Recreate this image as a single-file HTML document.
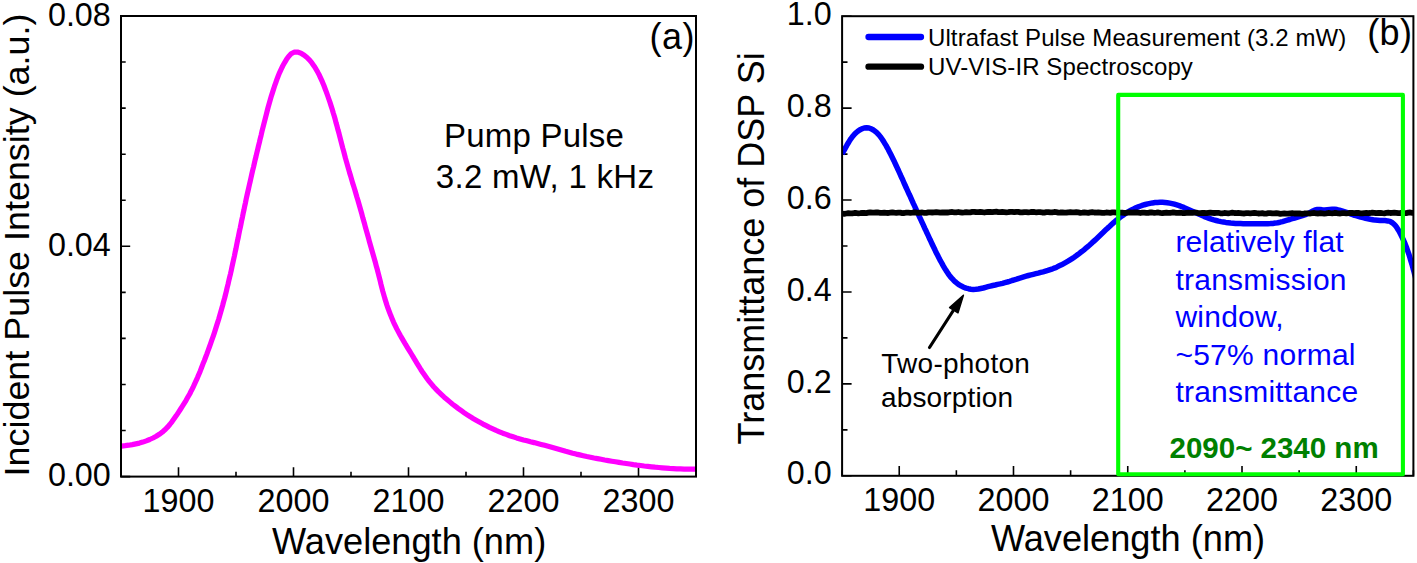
<!DOCTYPE html><html><head><meta charset="utf-8"><style>html,body{margin:0;padding:0;background:#fff;}svg{display:block;}text{font-family:"Liberation Sans", sans-serif;}</style></head><body>
<svg width="1417" height="563" viewBox="0 0 1417 563">
<rect width="1417" height="563" fill="#fff"/>
<defs><clipPath id="ca"><rect x="121.00" y="16.00" width="575.00" height="460.60"/></clipPath><clipPath id="cb"><rect x="842.10" y="16.20" width="571.30" height="459.60"/></clipPath></defs>
<path d="M121.00 476.60h9.2 M121.00 430.54h4.7 M121.00 384.48h4.7 M121.00 338.42h4.7 M121.00 292.36h4.7 M121.00 246.30h9.2 M121.00 200.24h4.7 M121.00 154.18h4.7 M121.00 108.12h4.7 M121.00 62.06h4.7 M121.00 16.00h9.2 M121.00 476.60v-4.8 M178.50 476.60v-9.4 M236.00 476.60v-4.8 M293.50 476.60v-9.4 M351.00 476.60v-4.8 M408.50 476.60v-9.4 M466.00 476.60v-4.8 M523.50 476.60v-9.4 M581.00 476.60v-4.8 M638.50 476.60v-9.4 M696.00 476.60v-4.8" stroke="#000" stroke-width="1.6" fill="none"/>
<path d="M842.10 475.80h9.5 M842.10 429.84h5.4 M842.10 383.88h9.5 M842.10 337.92h5.4 M842.10 291.96h9.5 M842.10 246.00h5.4 M842.10 200.04h9.5 M842.10 154.08h5.4 M842.10 108.12h9.5 M842.10 62.16h5.4 M842.10 16.20h9.5 M842.10 475.80v-5.6 M899.23 475.80v-9.8 M956.36 475.80v-5.6 M1013.49 475.80v-9.8 M1070.62 475.80v-5.6 M1127.75 475.80v-9.8 M1184.88 475.80v-5.6 M1242.01 475.80v-9.8 M1299.14 475.80v-5.6 M1356.27 475.80v-9.8 M1413.40 475.80v-5.6" stroke="#000" stroke-width="1.6" fill="none"/>
<polyline clip-path="url(#ca)" points="121.5,446.1 125.1,445.7 128.7,445.2 132.3,444.6 135.8,443.9 139.4,443.1 142.8,442.1 146.3,440.9 149.7,439.5 153.0,438.0 156.2,436.3 159.3,434.3 162.2,432.2 164.9,429.8 167.5,427.2 169.8,424.5 172.1,421.6 174.2,418.6 176.3,415.6 178.3,412.6 180.3,409.5 182.3,406.4 184.2,403.4 186.1,400.3 187.9,397.1 189.7,394.0 191.3,390.7 193.0,387.5 194.5,384.2 196.0,380.9 197.5,377.6 198.9,374.2 200.3,370.9 201.6,367.5 202.9,364.1 204.3,360.7 205.6,357.3 206.9,353.9 208.1,350.5 209.4,347.0 210.6,343.6 211.8,340.2 213.0,336.8 214.2,333.3 215.3,329.9 216.4,326.4 217.5,322.9 218.6,319.5 219.6,316.0 220.6,312.5 221.6,309.0 222.6,305.5 223.5,302.0 224.5,298.5 225.4,295.0 226.3,291.4 227.1,287.9 228.0,284.4 228.8,280.8 229.6,277.3 230.5,273.8 231.3,270.2 232.0,266.7 232.8,263.1 233.6,259.5 234.4,256.0 235.1,252.4 235.9,248.9 236.6,245.3 237.3,241.7 238.1,238.2 238.8,234.6 239.5,231.0 240.3,227.5 241.0,223.9 241.7,220.3 242.5,216.8 243.2,213.2 244.0,209.7 244.7,206.1 245.5,202.6 246.2,199.0 247.0,195.4 247.8,191.9 248.6,188.4 249.4,184.8 250.2,181.3 251.0,177.7 251.8,174.2 252.6,170.6 253.5,167.1 254.3,163.6 255.1,160.0 256.0,156.5 256.8,153.0 257.7,149.4 258.5,145.9 259.4,142.4 260.2,138.8 261.1,135.3 261.9,131.7 262.8,128.2 263.7,124.7 264.6,121.1 265.5,117.6 266.4,114.1 267.3,110.5 268.2,107.0 269.2,103.5 270.2,100.0 271.2,96.6 272.3,93.1 273.4,89.6 274.5,86.2 275.7,82.8 276.9,79.4 278.2,76.0 279.6,72.6 281.1,69.3 282.7,66.0 284.5,62.8 286.4,59.6 288.6,56.5 291.1,53.8 294.1,52.2 297.5,52.1 301.0,53.2 304.2,55.2 307.0,57.5 309.6,60.1 311.9,62.9 314.0,65.9 315.9,68.9 317.7,72.1 319.4,75.3 320.9,78.6 322.4,81.9 323.8,85.3 325.1,88.7 326.4,92.1 327.6,95.5 328.8,99.0 330.0,102.4 331.1,105.9 332.2,109.3 333.2,112.8 334.3,116.3 335.3,119.8 336.2,123.3 337.2,126.8 338.1,130.3 339.1,133.8 340.0,137.3 340.9,140.8 341.8,144.4 342.7,147.9 343.7,151.4 344.6,154.9 345.5,158.4 346.5,161.9 347.5,165.4 348.5,168.9 349.5,172.4 350.6,175.9 351.6,179.4 352.6,182.9 353.7,186.3 354.8,189.8 355.8,193.3 356.8,196.8 357.9,200.3 358.9,203.8 359.9,207.3 360.9,210.8 361.9,214.3 362.8,217.8 363.8,221.3 364.8,224.8 365.7,228.3 366.7,231.8 367.7,235.3 368.7,238.8 369.6,242.3 370.6,245.8 371.6,249.3 372.6,252.8 373.6,256.3 374.6,259.8 375.6,263.3 376.5,266.8 377.5,270.3 378.4,273.8 379.3,277.3 380.2,280.9 381.0,284.4 381.9,287.9 382.8,291.4 383.8,294.9 384.8,298.4 385.9,301.9 387.0,305.4 388.2,308.8 389.5,312.2 390.8,315.6 392.2,319.0 393.6,322.3 395.2,325.6 396.8,328.9 398.5,332.1 400.2,335.3 402.0,338.4 403.9,341.6 405.7,344.7 407.6,347.8 409.5,350.9 411.4,354.0 413.3,357.1 415.1,360.2 417.0,363.3 418.9,366.4 420.8,369.5 422.8,372.6 424.9,375.6 427.0,378.5 429.2,381.4 431.5,384.2 433.9,387.0 436.4,389.6 438.9,392.2 441.5,394.7 444.2,397.2 447.0,399.5 449.8,401.9 452.6,404.2 455.5,406.4 458.4,408.6 461.3,410.7 464.3,412.8 467.3,414.8 470.4,416.8 473.5,418.7 476.6,420.5 479.8,422.3 483.0,424.1 486.2,425.7 489.5,427.4 492.8,428.9 496.1,430.4 499.4,431.8 502.8,433.2 506.2,434.4 509.6,435.7 513.1,436.8 516.5,437.9 520.0,438.9 523.5,439.9 527.0,440.8 530.5,441.8 534.1,442.6 537.6,443.5 541.1,444.4 544.6,445.3 548.2,446.3 551.7,447.3 555.2,448.3 558.7,449.3 562.2,450.3 565.7,451.3 569.2,452.2 572.7,453.2 576.2,454.1 579.7,454.9 583.3,455.7 586.8,456.5 590.4,457.2 594.0,458.0 597.5,458.6 601.1,459.3 604.7,460.0 608.3,460.6 611.8,461.2 615.4,461.8 619.0,462.4 622.6,463.0 626.2,463.5 629.8,464.0 633.4,464.6 637.0,465.1 640.6,465.5 644.2,466.0 647.8,466.4 651.5,466.8 655.1,467.2 658.7,467.5 662.3,467.8 665.9,468.1 669.6,468.4 673.2,468.6 676.8,468.8 680.5,468.9 684.1,469.1 687.7,469.1 691.4,469.2 695.0,469.2" fill="none" stroke="#ff00ff" stroke-width="5.2" stroke-linejoin="round"/>
<polyline clip-path="url(#cb)" points="842.1,153.8 843.3,151.7 844.5,149.6 845.7,147.4 846.9,145.2 848.2,143.0 849.5,140.9 850.8,138.8 852.3,136.8 853.9,134.9 855.6,133.1 857.5,131.5 859.6,130.0 861.8,128.8 864.2,128.0 866.6,127.7 869.0,128.0 871.3,128.8 873.4,130.0 875.4,131.4 877.2,133.1 878.9,134.9 880.5,136.9 882.0,139.0 883.4,141.1 884.7,143.3 886.0,145.4 887.2,147.6 888.4,149.7 889.5,151.9 890.6,154.1 891.7,156.3 892.8,158.5 893.9,160.7 894.9,162.9 896.0,165.2 897.0,167.4 898.1,169.7 899.1,172.0 900.1,174.2 901.1,176.5 902.2,178.7 903.2,181.0 904.2,183.3 905.2,185.5 906.2,187.8 907.3,190.1 908.3,192.3 909.3,194.6 910.4,196.8 911.4,199.1 912.4,201.3 913.4,203.6 914.5,205.9 915.5,208.1 916.5,210.4 917.6,212.6 918.6,214.9 919.6,217.1 920.7,219.4 921.7,221.6 922.8,223.9 923.8,226.1 924.8,228.4 925.9,230.6 926.9,232.8 928.0,235.1 929.0,237.3 930.0,239.6 931.1,241.8 932.1,244.0 933.2,246.3 934.3,248.5 935.3,250.7 936.4,252.9 937.5,255.1 938.7,257.4 939.8,259.6 941.0,261.8 942.2,263.9 943.4,266.1 944.7,268.3 946.0,270.4 947.4,272.5 948.8,274.6 950.3,276.6 951.9,278.4 953.6,280.2 955.4,281.9 957.3,283.5 959.3,284.9 961.4,286.1 963.7,287.2 966.0,288.1 968.4,288.7 970.8,289.2 973.3,289.4 975.8,289.3 978.3,289.0 980.8,288.5 983.2,288.0 985.6,287.3 987.9,286.7 990.3,286.1 992.7,285.5 995.2,285.0 997.6,284.4 1000.1,283.9 1002.5,283.3 1004.9,282.6 1007.3,282.0 1009.6,281.3 1012.0,280.5 1014.3,279.8 1016.7,279.1 1019.0,278.3 1021.4,277.6 1023.7,276.9 1026.1,276.2 1028.5,275.5 1030.9,274.9 1033.3,274.3 1035.8,273.7 1038.2,273.1 1040.7,272.4 1043.1,271.8 1045.5,271.1 1047.9,270.4 1050.2,269.6 1052.6,268.8 1054.9,267.9 1057.1,266.9 1059.3,265.8 1061.5,264.8 1063.7,263.6 1065.9,262.4 1068.0,261.2 1070.1,259.9 1072.1,258.6 1074.2,257.2 1076.2,255.8 1078.2,254.3 1080.1,252.8 1082.1,251.3 1084.0,249.8 1085.9,248.2 1087.8,246.6 1089.7,245.0 1091.6,243.3 1093.4,241.6 1095.3,239.9 1097.1,238.2 1098.9,236.5 1100.7,234.8 1102.5,233.1 1104.3,231.3 1106.1,229.6 1107.9,227.9 1109.8,226.2 1111.6,224.5 1113.4,222.9 1115.3,221.2 1117.2,219.7 1119.1,218.1 1121.1,216.6 1123.1,215.2 1125.1,213.8 1127.2,212.4 1129.3,211.2 1131.5,210.0 1133.7,208.9 1135.9,207.8 1138.2,206.9 1140.6,206.0 1142.9,205.2 1145.3,204.5 1147.7,203.9 1150.2,203.4 1152.6,202.9 1155.1,202.6 1157.5,202.4 1160.0,202.3 1162.4,202.3 1164.9,202.5 1167.3,202.7 1169.7,203.1 1172.1,203.6 1174.4,204.2 1176.8,204.9 1179.1,205.6 1181.4,206.5 1183.8,207.4 1186.1,208.4 1188.4,209.4 1190.6,210.4 1192.9,211.4 1195.2,212.5 1197.5,213.6 1199.8,214.6 1202.1,215.6 1204.4,216.6 1206.7,217.5 1209.1,218.4 1211.4,219.2 1213.8,219.9 1216.2,220.5 1218.6,221.1 1221.0,221.6 1223.4,222.0 1225.8,222.4 1228.3,222.7 1230.7,223.0 1233.2,223.2 1235.6,223.4 1238.1,223.5 1240.6,223.6 1243.1,223.7 1245.6,223.7 1248.1,223.7 1250.5,223.8 1253.0,223.8 1255.5,223.8 1258.0,223.8 1260.5,223.8 1263.0,223.8 1265.4,223.8 1267.9,223.7 1270.4,223.6 1272.8,223.4 1275.2,223.1 1277.7,222.7 1280.1,222.2 1282.5,221.6 1284.9,220.9 1287.3,220.2 1289.7,219.5 1292.1,218.7 1294.5,218.0 1296.9,217.3 1299.2,216.6 1301.6,215.9 1303.9,215.1 1306.2,214.3 1308.5,213.3 1310.7,212.1 1312.9,210.9 1315.1,209.9 1317.3,209.5 1319.7,209.5 1322.2,209.8 1324.7,209.9 1327.2,209.7 1329.7,209.5 1332.2,209.3 1334.6,209.3 1337.0,209.6 1339.4,210.1 1341.8,210.8 1344.1,211.6 1346.5,212.4 1348.8,213.3 1351.2,214.2 1353.5,215.0 1355.9,215.7 1358.3,216.4 1360.7,217.1 1363.1,217.7 1365.5,218.3 1367.9,218.8 1370.3,219.3 1372.7,219.7 1375.1,220.1 1377.6,220.3 1380.1,220.5 1382.6,220.6 1385.1,220.6 1387.6,220.9 1389.9,221.4 1391.9,222.5 1393.7,223.9 1395.4,225.7 1396.9,227.7 1398.3,229.9 1399.6,232.2 1400.8,234.5 1401.9,236.8 1403.0,239.1 1404.0,241.4 1405.0,243.7 1405.9,246.0 1406.8,248.3 1407.6,250.6 1408.4,252.9 1409.2,255.2 1409.9,257.5 1410.6,259.9 1411.3,262.2 1412.0,264.6 1412.7,266.9 1413.3,269.3 1414.0,271.7 1414.6,274.2 1415.3,276.6 1415.9,279.1" fill="none" stroke="#0000ff" stroke-width="5.5" stroke-linejoin="round"/>
<polyline clip-path="url(#cb)" points="842.3,213.6 844.3,213.8 846.3,213.5 848.3,213.2 850.3,213.4 852.3,213.4 854.3,213.0 856.3,213.0 858.3,213.3 860.3,213.2 862.3,212.9 864.3,213.0 866.3,213.1 868.3,212.7 870.3,212.3 872.3,212.6 874.3,212.7 876.3,212.4 878.3,212.5 880.3,212.9 882.3,212.9 884.3,212.6 886.3,212.8 888.3,213.0 890.3,212.7 892.3,212.4 894.3,212.7 896.3,212.9 898.3,212.7 900.3,212.7 902.3,213.1 904.3,213.0 906.3,212.7 908.3,212.7 910.3,212.8 912.3,212.6 914.3,212.3 916.3,212.5 918.3,212.8 920.3,212.6 922.3,212.5 924.3,212.8 926.3,212.8 928.3,212.4 930.3,212.3 932.3,212.5 934.3,212.4 936.3,212.1 938.3,212.4 940.3,212.7 942.3,212.5 944.3,212.3 946.3,212.5 948.3,212.5 950.3,212.1 952.3,212.0 954.3,212.3 956.3,212.3 958.3,212.0 960.3,212.3 962.3,212.6 964.3,212.4 966.3,212.1 968.3,212.3 970.3,212.3 972.3,211.9 974.3,211.8 976.3,212.2 978.3,212.2 980.3,212.0 982.3,212.2 984.3,212.5 986.3,212.2 988.3,211.9 990.3,212.0 992.3,212.1 994.3,211.8 996.3,211.7 998.3,212.1 1000.3,212.2 1002.3,212.0 1004.3,212.1 1006.3,212.3 1008.3,212.1 1010.3,211.8 1012.3,211.9 1014.3,212.2 1016.3,211.9 1018.3,211.9 1020.3,212.3 1022.3,212.4 1024.3,212.1 1026.3,212.1 1028.3,212.4 1030.3,212.2 1032.3,211.8 1034.3,212.0 1036.3,212.3 1038.3,212.2 1040.3,212.1 1042.3,212.5 1044.3,212.6 1046.3,212.2 1048.3,212.1 1050.3,212.4 1052.3,212.3 1054.3,212.0 1056.3,212.2 1058.3,212.6 1060.3,212.5 1062.3,212.3 1064.3,212.6 1066.3,212.7 1068.3,212.3 1070.3,212.2 1072.3,212.4 1074.3,212.4 1076.3,212.2 1078.3,212.4 1080.3,212.8 1082.3,212.7 1084.3,212.4 1086.3,212.6 1088.3,212.8 1090.3,212.4 1092.3,212.2 1094.3,212.5 1096.3,212.7 1098.3,212.4 1100.3,212.6 1102.3,212.9 1104.3,212.8 1106.3,212.5 1108.3,212.6 1110.3,212.8 1112.3,212.4 1114.3,212.3 1116.3,212.6 1118.3,212.8 1120.3,212.6 1122.3,212.6 1124.3,213.0 1126.3,212.8 1128.3,212.5 1130.3,212.5 1132.3,212.7 1134.3,212.5 1136.3,212.4 1138.3,212.7 1140.3,213.0 1142.3,212.7 1144.3,212.7 1146.3,212.9 1148.3,212.8 1150.3,212.4 1152.3,212.5 1154.3,212.8 1156.3,212.7 1158.3,212.5 1160.3,212.9 1162.3,213.1 1164.3,212.8 1166.3,212.7 1168.3,212.9 1170.3,212.9 1172.3,212.5 1174.3,212.5 1176.3,212.9 1178.3,212.9 1180.3,212.7 1182.3,213.0 1184.3,213.2 1186.3,212.9 1188.3,212.7 1190.3,212.9 1192.3,212.9 1194.3,212.6 1196.3,212.7 1198.3,213.1 1200.3,213.1 1202.3,212.9 1204.3,213.0 1206.3,213.2 1208.3,212.9 1210.3,212.6 1212.3,212.9 1214.3,213.0 1216.3,212.8 1218.3,212.8 1220.3,213.3 1222.3,213.3 1224.3,213.0 1226.3,213.1 1228.3,213.3 1230.3,213.0 1232.3,212.7 1234.3,213.0 1236.3,213.2 1238.3,213.0 1240.3,213.1 1242.3,213.4 1244.3,213.5 1246.3,213.1 1248.3,213.1 1250.3,213.3 1252.3,213.1 1254.3,212.9 1256.3,213.2 1258.3,213.5 1260.3,213.3 1262.3,213.2 1264.3,213.6 1266.3,213.6 1268.3,213.2 1270.3,213.1 1272.3,213.4 1274.3,213.3 1276.3,213.1 1278.3,213.4 1280.3,213.8 1282.3,213.6 1284.3,213.4 1286.3,213.6 1288.3,213.7 1290.3,213.3 1292.3,213.2 1294.3,213.5 1296.3,213.5 1298.3,213.3 1300.3,213.5 1302.3,213.8 1304.3,213.5 1306.3,213.3 1308.3,213.4 1310.3,213.5 1312.3,213.1 1314.3,213.0 1316.3,213.4 1318.3,213.5 1320.3,213.2 1322.3,213.4 1324.3,213.6 1326.3,213.4 1328.3,213.0 1330.3,213.2 1332.3,213.3 1334.3,213.0 1336.3,213.0 1338.3,213.4 1340.3,213.5 1342.3,213.2 1344.3,213.2 1346.3,213.4 1348.3,213.2 1350.3,212.8 1352.3,213.0 1354.3,213.2 1356.3,213.0 1358.3,212.9 1360.3,213.3 1362.3,213.4 1364.3,213.1 1366.3,213.0 1368.3,213.2 1370.3,213.0 1372.3,212.7 1374.3,212.8 1376.3,213.2 1378.3,213.0 1380.3,212.9 1382.3,213.2 1384.3,213.3 1386.3,212.9 1388.3,212.7 1390.3,213.0 1392.3,212.9 1394.3,212.6 1396.3,212.8 1398.3,213.1 1400.3,213.0 1402.3,212.8 1404.3,213.0 1406.3,213.1 1408.3,212.7 1410.3,212.5 1412.3,212.8 1413.3,212.8" fill="none" stroke="#000" stroke-width="5.8" stroke-linejoin="round"/>
<rect x="121.00" y="16.00" width="575.00" height="460.60" fill="none" stroke="#000" stroke-width="2"/>
<rect x="842.10" y="16.20" width="571.30" height="459.60" fill="none" stroke="#000" stroke-width="2"/>
<path d="M1118.2 474.3V94.9H1402.9V474.3Z" fill="none" stroke="#00ff00" stroke-width="4.1" stroke-linejoin="round"/>
<text x="110.8" y="486.4" font-size="32.3" text-anchor="end">0.00</text>
<text x="110.8" y="256.1" font-size="32.3" text-anchor="end">0.04</text>
<text x="110.8" y="25.8" font-size="32.3" text-anchor="end">0.08</text>
<text x="178.50" y="511.7" font-size="32.3" text-anchor="middle">1900</text>
<text x="293.50" y="511.7" font-size="32.3" text-anchor="middle">2000</text>
<text x="408.50" y="511.7" font-size="32.3" text-anchor="middle">2100</text>
<text x="523.50" y="511.7" font-size="32.3" text-anchor="middle">2200</text>
<text x="638.50" y="511.7" font-size="32.3" text-anchor="middle">2300</text>
<text x="831.7" y="24.9" font-size="32.3" text-anchor="end">1.0</text>
<text x="831.7" y="116.8" font-size="32.3" text-anchor="end">0.8</text>
<text x="831.7" y="208.7" font-size="32.3" text-anchor="end">0.6</text>
<text x="831.7" y="300.6" font-size="32.3" text-anchor="end">0.4</text>
<text x="831.7" y="392.5" font-size="32.3" text-anchor="end">0.2</text>
<text x="831.7" y="484.4" font-size="32.3" text-anchor="end">0.0</text>
<text x="899.23" y="510.5" font-size="32.3" text-anchor="middle">1900</text>
<text x="1013.49" y="510.5" font-size="32.3" text-anchor="middle">2000</text>
<text x="1127.75" y="510.5" font-size="32.3" text-anchor="middle">2100</text>
<text x="1242.01" y="510.5" font-size="32.3" text-anchor="middle">2200</text>
<text x="1356.27" y="510.5" font-size="32.3" text-anchor="middle">2300</text>
<text x="409.1" y="554.3" font-size="36.2" text-anchor="middle">Wavelength (nm)</text>
<text x="1128.0" y="551.3" font-size="36.2" text-anchor="middle">Wavelength (nm)</text>
<text transform="translate(28.9 245.0) rotate(-90)" font-size="35.9" text-anchor="middle">Incident Pulse Intensity (a.u.)</text>
<text transform="translate(763.6 248.4) rotate(-90)" font-size="36.0" text-anchor="middle">Transmittance of DSP Si</text>
<text x="694.8" y="49" font-size="36" letter-spacing="0.4" text-anchor="end">(a)</text>
<text x="1412.2" y="45.3" font-size="36" letter-spacing="0.3" text-anchor="end">(b)</text>
<text x="444" y="147.2" font-size="33" letter-spacing="0.22">Pump Pulse</text>
<text x="435.8" y="187.8" font-size="33" letter-spacing="0.3">3.2 mW, 1 kHz</text>
<line x1="868.5" y1="37" x2="921" y2="37" stroke="#0000ff" stroke-width="6.3" stroke-linecap="round"/>
<line x1="868.5" y1="66.7" x2="921" y2="66.7" stroke="#000" stroke-width="6.3" stroke-linecap="round"/>
<text x="928" y="45.6" font-size="24" letter-spacing="0.1">Ultrafast Pulse Measurement (3.2 mW)</text>
<text x="928" y="74.7" font-size="24" letter-spacing="0.1">UV-VIS-IR Spectroscopy</text>
<line x1="929.5" y1="347.5" x2="953" y2="311" stroke="#000" stroke-width="3.2" stroke-linecap="round"/>
<path d="M963.4 295.2L949.6 307.6L958.0 312.8Z" fill="#000" stroke="#000" stroke-width="1.5" stroke-linejoin="round"/>
<text x="881.3" y="372.6" font-size="28" letter-spacing="0.25">Two-photon</text>
<text x="881" y="407" font-size="28" letter-spacing="0.15">absorption</text>
<text x="1175.4" y="252.3" font-size="30" letter-spacing="0.10" fill="#0000ff">relatively flat</text>
<text x="1175.4" y="289.8" font-size="30" letter-spacing="0.25" fill="#0000ff">transmission</text>
<text x="1175.4" y="327.3" font-size="30" letter-spacing="0.25" fill="#0000ff">window,</text>
<text x="1175.4" y="364.8" font-size="30" letter-spacing="0.25" fill="#0000ff">~57% normal</text>
<text x="1175.4" y="402.3" font-size="30" letter-spacing="0.22" fill="#0000ff">transmittance</text>
<text x="1169.5" y="458" font-size="29.5" font-weight="bold" fill="#008000">2090~ 2340 nm</text>
</svg></body></html>
